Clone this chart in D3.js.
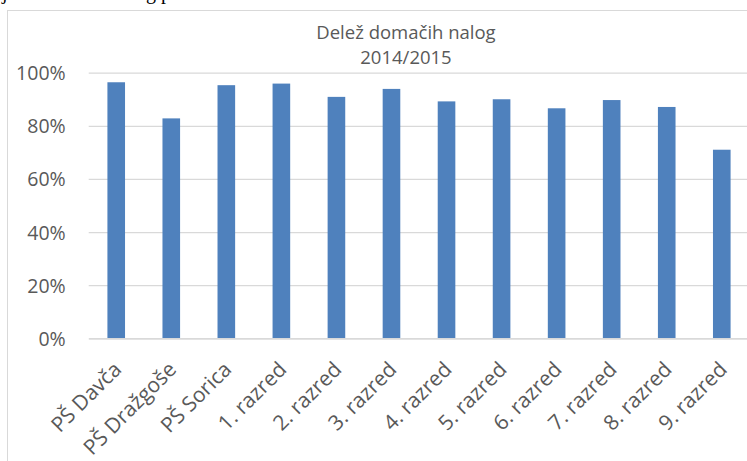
<!DOCTYPE html>
<html>
<head>
<meta charset="utf-8">
<script src="https://cdn.jsdelivr.net/npm/d3@7"></script>
<style>
  body { margin: 0; background: #fff; }
  svg { display: block; }
</style>
</head>
<body>
<div id="chart"></div>
<script>
const categories = ['PŠ Davča', 'PŠ Dražgoše', 'PŠ Sorica', '1. razred', '2. razred', '3. razred',
  '4. razred', '5. razred', '6. razred', '7. razred', '8. razred', '9. razred'];
const values = [0.964, 0.828, 0.953, 0.959, 0.909, 0.939, 0.892, 0.900, 0.866, 0.897, 0.871, 0.710];
const yTicks = [0, 0.2, 0.4, 0.6, 0.8, 1];
const titleLines = ['Delež domačih nalog', '2014/2015'];

const width = 747;
const height = 461;
const margin = {top: 72.7, bottom: 122.7, left: 88.7, right: -2.3};
const font = '"Open Sans", sans-serif';
const grey = '#595959';

const svg = d3.select('#chart')
  .append('svg')
  .attr('width', width)
  .attr('height', height);

// bits of the page text above the chart (cut off in the screenshot)
svg.append('text').attr('x', 2).attr('y', -1.5)
  .attr('font-family', '"Liberation Serif", serif').attr('font-size', 20)
  .text('j');
svg.append('text').attr('x', 146).attr('y', -1.5)
  .attr('font-family', '"Liberation Serif", serif').attr('font-size', 20)
  .text('g p');

// chart frame
svg.append('rect')
  .attr('x', 7.5).attr('y', 10.5)
  .attr('width', 800).attr('height', 500)
  .attr('fill', 'none')
  .attr('stroke', '#d9d9d9');

const x = d3.scaleBand()
  .domain(categories)
  .range([margin.left, width - margin.right])
  .paddingInner(0.68)
  .paddingOuter(0.34);

const y = d3.scaleLinear()
  .domain([0, 1])
  .range([height - margin.bottom, margin.top]);

// gridlines
svg.append('g')
  .attr('transform', `translate(${margin.left},0)`)
  .call(d3.axisLeft(y).tickValues(yTicks).tickSize(-(width - margin.right - margin.left)).tickFormat(''))
  .call(g => g.select('.domain').remove())
  .call(g => g.selectAll('line').attr('stroke', '#d9d9d9').attr('stroke-width', 1.3));

// bars
svg.append('g')
  .attr('fill', '#4f81bd')
  .selectAll('rect')
  .data(values)
  .join('rect')
  .attr('x', (d, i) => x(categories[i]))
  .attr('y', d => y(d))
  .attr('width', x.bandwidth())
  .attr('height', d => y(0) - y(d));

// y axis labels
svg.append('g')
  .attr('transform', `translate(${margin.left},0)`)
  .call(d3.axisLeft(y).tickValues(yTicks).tickSize(0).tickPadding(23).tickFormat(d3.format('.0%')))
  .call(g => g.select('.domain').remove())
  .call(g => g.selectAll('text')
    .attr('font-family', font).attr('font-size', 19.5).attr('fill', grey).attr('dy', '0.36em'));

// x axis
svg.append('g')
  .attr('transform', `translate(0,${y(0)})`)
  .call(d3.axisBottom(x).tickSize(0).tickFormat(d => d))
  .call(g => g.select('.domain').attr('stroke', '#d9d9d9').attr('stroke-width', 1.5))
  .call(g => g.selectAll('text')
    .attr('font-family', font).attr('font-size', 21).attr('fill', grey)
    .attr('text-anchor', 'end')
    .attr('dy', null).attr('y', null)
    .attr('transform', 'translate(-6,20) rotate(-45)')
    .attr('dominant-baseline', 'hanging'));

// title
svg.append('g')
  .selectAll('text')
  .data(titleLines)
  .join('text')
  .attr('x', 406)
  .attr('y', (d, i) => 39 + i * 25)
  .attr('text-anchor', 'middle')
  .attr('font-family', font)
  .attr('font-size', 18.5)
  .attr('fill', grey)
  .text(d => d);
</script>
</body>
</html>
